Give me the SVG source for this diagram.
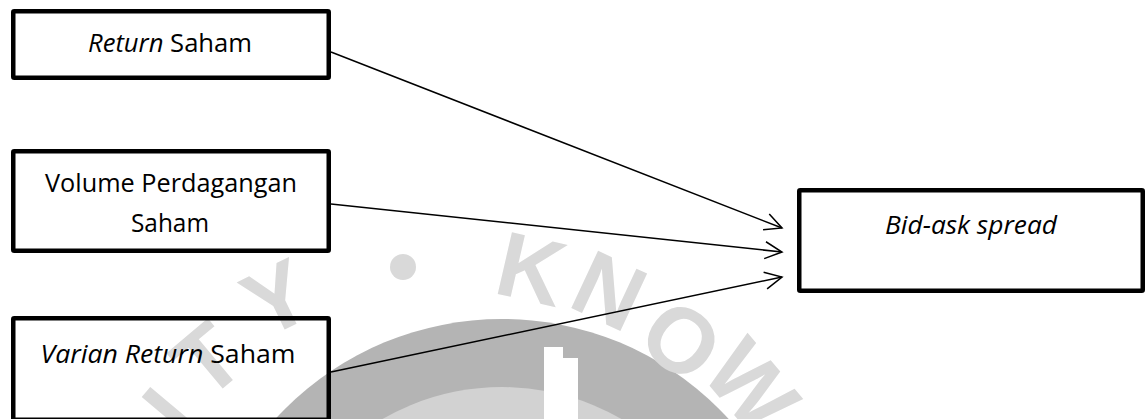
<svg xmlns="http://www.w3.org/2000/svg" width="1147" height="419" viewBox="0 0 1147 419">
  <style>
    .box { fill: none; stroke: #000; stroke-width: 4.5; stroke-linejoin: round; }
    .lbl { font-family: "Open Sans", "Liberation Sans", sans-serif; font-size: 26px; fill: #000; text-anchor: middle; }
    .it { font-style: italic; }
    .conn { stroke: #000; stroke-width: 1.5; fill: none; marker-end: url(#arr); }
    .wm { font-family: "Liberation Sans", "DejaVu Sans", sans-serif; font-weight: bold; font-size: 92px; fill: #d9d9d9; text-anchor: middle; }
  </style>
  <defs>
    <marker id="arr" markerUnits="userSpaceOnUse" markerWidth="20" markerHeight="20" refX="17" refY="8.5" orient="auto" overflow="visible">
      <path d="M0,0 L17,8.5 L0,17" fill="none" stroke="#000" stroke-width="1.5"/>
    </marker>
  </defs>
  <rect width="1147" height="419" fill="#fff"/>

  <g id="watermark">
    <circle cx="502" cy="626" r="307" fill="#b4b4b4"/>
    <circle cx="502" cy="626" r="239" fill="#d2d2d2"/>
    <polygon points="544,347 563,347 563,358 578,358 578,419 544,419" fill="#fff"/>
    <circle cx="403" cy="267" r="13" fill="#d9d9d9"/>
    <text class="wm" x="445" y="291" transform="rotate(13 445 643)">K</text>
    <text class="wm" x="445" y="286" transform="rotate(25 445 643)">N</text>
    <text class="wm" x="445" y="291" transform="rotate(38 445 643)">O</text>
    <text class="wm" x="445" y="275" transform="rotate(50 445 643)">W</text>
    <text class="wm" x="445" y="291" transform="rotate(-26 445 643)">Y</text>
    <text class="wm" x="445" y="305" transform="rotate(-40 445 643)">T</text>
    <text class="wm" x="445" y="316" transform="rotate(-50 445 643)">I</text>
  </g>

  <g id="connectors">
    <line class="conn" x1="331" y1="52" x2="782" y2="228"/>
    <line class="conn" x1="331" y1="204" x2="782" y2="252"/>
    <line class="conn" x1="331" y1="372" x2="782" y2="277"/>
  </g>

  <g id="return-saham">
    <rect class="box" x="13.25" y="11.25" width="315.5" height="66.5" rx="1"/>
    <text class="lbl" x="170" y="52" textLength="164" lengthAdjust="spacingAndGlyphs"><tspan class="it">Return</tspan> Saham</text>
  </g>

  <g id="volume-perdagangan">
    <rect class="box" x="13.25" y="151.25" width="315.5" height="99.5" rx="1"/>
    <text class="lbl" x="171" y="192" textLength="252" lengthAdjust="spacingAndGlyphs">Volume Perdagangan</text>
    <text class="lbl" x="170" y="232" textLength="78" lengthAdjust="spacingAndGlyphs">Saham</text>
  </g>

  <g id="varian-return">
    <rect class="box" x="13.25" y="318.25" width="315.5" height="101.5" rx="1"/>
    <text class="lbl" x="168" y="363" textLength="255" lengthAdjust="spacingAndGlyphs"><tspan class="it">Varian Return</tspan> Saham</text>
  </g>

  <g id="bid-ask-spread">
    <rect class="box" x="799.25" y="190.25" width="343.5" height="100.5" rx="1"/>
    <text class="lbl it" x="971" y="234" textLength="172" lengthAdjust="spacingAndGlyphs">Bid-ask spread</text>
  </g>
</svg>
